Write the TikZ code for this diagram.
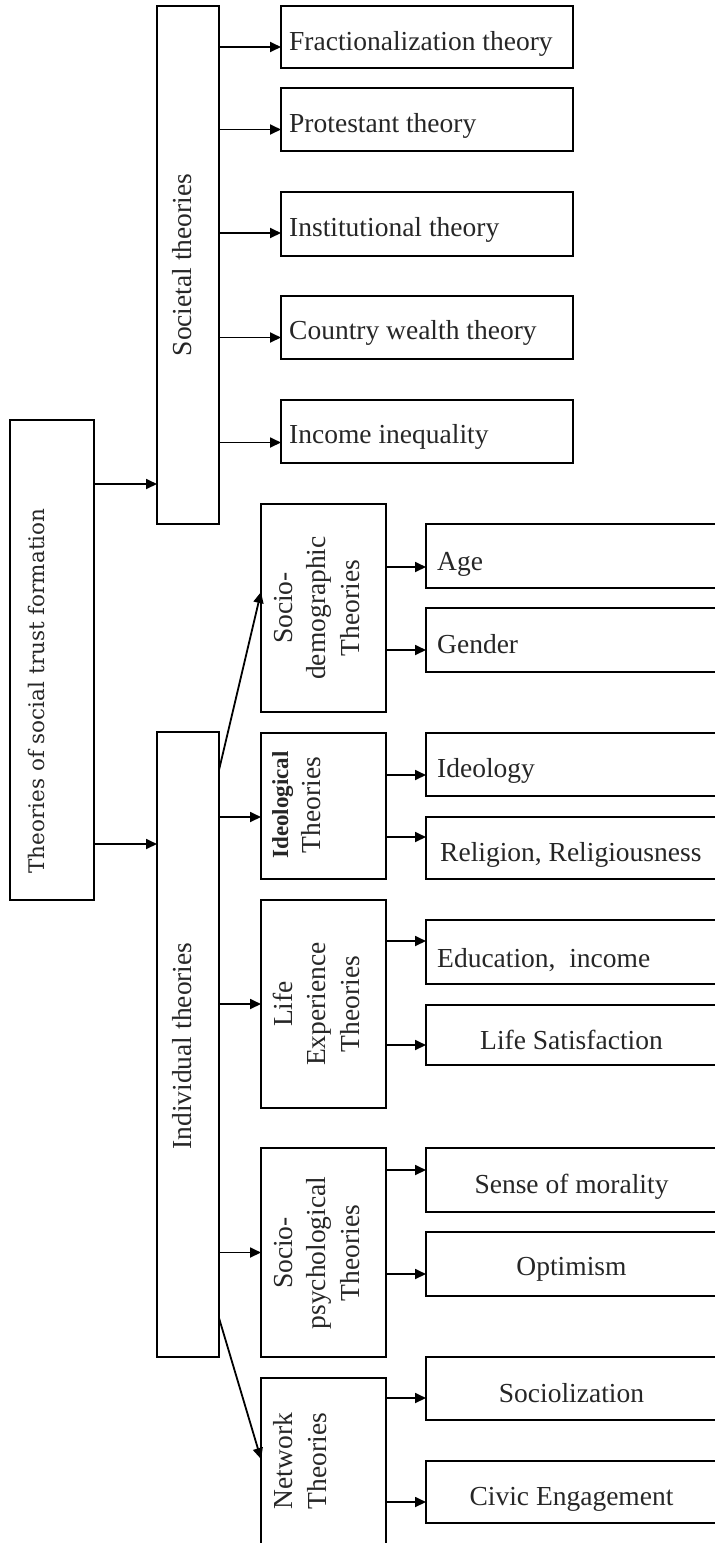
\documentclass[tikz,border=0pt]{standalone}
\usepackage{fontspec}
\setmainfont{Liberation Serif}
\newfontfamily\rootfont{DejaVu Serif}
\usetikzlibrary{arrows.meta,calc}
\begin{document}
\begin{tikzpicture}[x=1pt,y=-1pt,
  box/.style={draw, line width=2pt, inner sep=0pt, outer sep=0pt},
  arr/.style={line width=1.8pt, -{Triangle[length=11pt,width=10pt]}},
  txt/.style={font=\fontsize{27.5}{32}\selectfont, inner sep=0pt, text=black!85},
  lbl/.style={txt, anchor=base west},
  clbl/.style={txt, anchor=base},
  vlbl/.style={txt, anchor=base, rotate=90}]
\useasboundingbox (0,0) rectangle (715,1543);
\clip (0,0) rectangle (715,1543);
% main boxes
\node[box, minimum width=84pt, minimum height=480pt] (root) at (52,660) {};
\node[box, minimum width=62pt, minimum height=518pt] (soc) at (188,265) {};
\node[box, minimum width=62pt, minimum height=625pt] (ind) at (188,1044.5) {};
% societal children
\node[box, minimum width=292pt, minimum height=62pt] (frac) at (427,37) {};
\node[box, minimum width=292pt, minimum height=63pt] (prot) at (427,119.5) {};
\node[box, minimum width=292pt, minimum height=64pt] (inst) at (427,224) {};
\node[box, minimum width=292pt, minimum height=63pt] (ctry) at (427,327.5) {};
\node[box, minimum width=292pt, minimum height=63pt] (inc) at (427,431.5) {};
% individual sub-boxes
\node[box, minimum width=125pt, minimum height=208pt] (sd) at (323.5,608) {};
\node[box, minimum width=125pt, minimum height=146pt] (ideo) at (323.5,806) {};
\node[box, minimum width=125pt, minimum height=208pt] (life) at (323.5,1004) {};
\node[box, minimum width=125pt, minimum height=209pt] (sp) at (323.5,1252.5) {};
\node[box, minimum width=125pt, minimum height=182pt] (net) at (323.5,1469) {};
% individual children
\node[box, minimum width=304pt, minimum height=64pt] (age) at (578,556) {};
\node[box, minimum width=304pt, minimum height=64pt] (gen) at (578,640) {};
\node[box, minimum width=304pt, minimum height=63pt] (idl) at (578,764.5) {};
\node[box, minimum width=304pt, minimum height=62pt] (rel) at (578,848) {};
\node[box, minimum width=304pt, minimum height=64pt] (edu) at (578,952) {};
\node[box, minimum width=304pt, minimum height=60pt] (lsat) at (578,1035) {};
\node[box, minimum width=304pt, minimum height=64pt] (sense) at (578,1180) {};
\node[box, minimum width=304pt, minimum height=64pt] (opt) at (578,1264) {};
\node[box, minimum width=304pt, minimum height=63pt] (socl) at (578,1388.5) {};
\node[box, minimum width=304pt, minimum height=62pt] (civ) at (578,1492) {};
% vertical labels
\node[txt, anchor=base, rotate=90, font=\rootfont\fontsize{21.5}{26}\selectfont] (rootT) at (45,691) {Theories of social trust formation};
\node[vlbl] (socT) at (191,265) {Societal theories};
\node[vlbl] (indT) at (191,1046) {Individual theories};
\node[vlbl] (sdT1) at (292,608) {Socio-};
\node[vlbl] (sdT2) at (325.5,608) {demographic};
\node[vlbl] (sdT3) at (359,608) {Theories};
\node[vlbl, font=\bfseries\fontsize{23}{26}\selectfont] (ideoT1) at (288,805) {Ideological};
\node[vlbl] (ideoT2) at (320,805) {Theories};
\node[vlbl] (lifeT1) at (292,1004) {Life};
\node[vlbl] (lifeT2) at (325.5,1004) {Experience};
\node[vlbl] (lifeT3) at (359,1004) {Theories};
\node[vlbl] (spT1) at (292,1253) {Socio-};
\node[vlbl] (spT2) at (325.5,1253) {psychological};
\node[vlbl] (spT3) at (359,1253) {Theories};
\node[vlbl] (netT1) at (292,1461) {Network};
\node[vlbl] (netT2) at (326,1461) {Theories};
% right labels
\node[lbl] (fracT) at ($(frac.north west)+(8,44)$) {Fractionalization theory};
\node[lbl] (protT) at ($(prot.north west)+(8,44)$) {Protestant theory};
\node[lbl] (instT) at ($(inst.north west)+(8,44)$) {Institutional theory};
\node[lbl] (ctryT) at ($(ctry.north west)+(8,43)$) {Country wealth theory};
\node[lbl] (incT) at ($(inc.north west)+(8,43)$) {Income inequality};
\node[lbl] (ageT) at ($(age.north west)+(11,46)$) {Age};
\node[lbl] (genT) at ($(gen.north west)+(11,45)$) {Gender};
\node[lbl] (idlT) at ($(idl.north west)+(11,44)$) {Ideology};
\node[lbl] (relT) at ($(rel.north west)+(14,44)$) {Religion, Religiousness};
\node[lbl] (eduT) at ($(edu.north west)+(11,47)$) {Education,\ \ income};
\node[clbl] (lsatT) at ($(lsat.north west)+(145.5,44)$) {Life Satisfaction};
\node[clbl] (senseT) at ($(sense.north west)+(145.5,45)$) {Sense of morality};
\node[clbl] (optT) at ($(opt.north west)+(145.5,43)$) {Optimism};
\node[clbl] (soclT) at ($(socl.north west)+(145.5,45)$) {Sociolization};
\node[clbl] (civT) at ($(civ.north west)+(145.5,44)$) {Civic Engagement};
% connector end points
\coordinate (r1) at ($(root.north east)+(0,64)$);
\coordinate (r2) at ($(root.north east)+(0,424)$);
\coordinate (fracIn) at ($(frac.west)+(0,10)$);
\coordinate (protIn) at ($(prot.west)+(0,10)$);
\coordinate (instIn) at ($(inst.west)+(0,9)$);
\coordinate (ctryIn) at ($(ctry.west)+(0,10)$);
\coordinate (incIn) at ($(inc.west)+(0,11)$);
\coordinate (sdOut) at ($(ind.north east)+(0,38)$);
\coordinate (sdIn) at ($(sd.north west)+(0,88)$);
\coordinate (ideoIn) at ($(ideo.west)+(0,11)$);
\coordinate (netOut) at ($(ind.north east)+(0,586)$);
\coordinate (netIn) at ($(net.north west)+(0,81)$);
\coordinate (ageIn) at ($(age.west)+(0,11)$);
\coordinate (genIn) at ($(gen.west)+(0,10)$);
\coordinate (idlIn) at ($(idl.west)+(0,10.5)$);
\coordinate (relIn) at ($(rel.west)+(0,-11)$);
\coordinate (eduIn) at ($(edu.west)+(0,-11)$);
\coordinate (lsatIn) at ($(lsat.west)+(0,10)$);
\coordinate (senseIn) at ($(sense.west)+(0,-10)$);
\coordinate (optIn) at ($(opt.west)+(0,10)$);
\coordinate (soclIn) at ($(socl.west)+(0,9.5)$);
\coordinate (civIn) at ($(civ.west)+(0,10)$);
% connectors
\draw[arr] (r1) -- (soc.west |- r1);
\draw[arr] (r2) -- (ind.west |- r2);
\draw[arr] (soc.east |- fracIn) -- (fracIn);
\draw[arr] (soc.east |- protIn) -- (protIn);
\draw[arr] (soc.east |- instIn) -- (instIn);
\draw[arr] (soc.east |- ctryIn) -- (ctryIn);
\draw[arr] (soc.east |- incIn) -- (incIn);
\draw[arr] (sdOut) -- (sdIn);
\draw[arr] (ind.east |- ideoIn) -- (ideoIn);
\draw[arr] (ind.east |- life.west) -- (life.west);
\draw[arr] (ind.east |- sp.west) -- (sp.west);
\draw[arr] (netOut) -- (netIn);
\draw[arr] (sd.east |- ageIn) -- (ageIn);
\draw[arr] (sd.east |- genIn) -- (genIn);
\draw[arr] (ideo.east |- idlIn) -- (idlIn);
\draw[arr] (ideo.east |- relIn) -- (relIn);
\draw[arr] (life.east |- eduIn) -- (eduIn);
\draw[arr] (life.east |- lsatIn) -- (lsatIn);
\draw[arr] (sp.east |- senseIn) -- (senseIn);
\draw[arr] (sp.east |- optIn) -- (optIn);
\draw[arr] (net.east |- soclIn) -- (soclIn);
\draw[arr] (net.east |- civIn) -- (civIn);
\end{tikzpicture}
\end{document}
